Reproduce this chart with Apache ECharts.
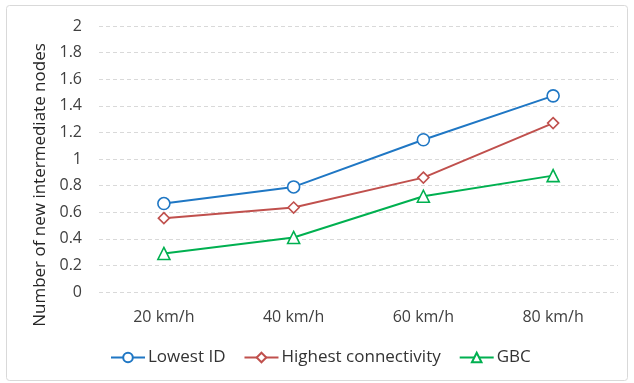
<!DOCTYPE html>
<html>
<head>
<meta charset="utf-8">
<script src="https://cdn.jsdelivr.net/npm/echarts@6/dist/echarts.min.js"></script>
<style>html,body{margin:0;padding:0;background:#fff;}#c{width:634px;height:383px;}</style>
</head>
<body>
<div id="c"></div>
<script>
const categories = ['20 km/h', '40 km/h', '60 km/h', '80 km/h'];
const lowestID = [0.665, 0.79, 1.145, 1.475];
const highestConnectivity = [0.555, 0.635, 0.86, 1.27];
const gbc = [0.29, 0.41, 0.72, 0.875];
const seriesNames = ['Lowest ID', 'Highest connectivity', 'GBC'];
const yTitle = 'Number of new intermediate nodes';

const font = '"Open Sans", "Noto Sans", sans-serif';
const chart = echarts.init(document.getElementById('c'), null, {renderer: 'canvas'});
function mk(name, data, color, symbol, size) {
  return {
    name, type: 'line', data, symbol, symbolSize: size, showAllSymbol: true,
    lineStyle: {color, width: 2},
    itemStyle: {color: '#fff', borderColor: color, borderWidth: 1.6},
    emphasis: {disabled: true}, z: 3
  };
}
chart.setOption({
  animation: false,
  backgroundColor: '#fff',
  color: ['#1f77c4', '#c0504d', '#00b050'],
  graphic: [
    {type: 'rect', shape: {x: 6.5, y: 5.5, width: 621, height: 375, r: 3}, style: {fill: 'none', stroke: '#d9d9d9', lineWidth: 1}, z: -10},
    {type: 'text', x: 40, y: 185, rotation: Math.PI / 2, style: {text: yTitle, font: '17px ' + font, fill: '#262626', textAlign: 'center', textVerticalAlign: 'middle'}}
  ],
  grid: {left: 99, right: 16, top: 26, bottom: 91, containLabel: false},
  legend: {
    data: seriesNames, bottom: 17, left: 110, padding: 0, itemWidth: 34, itemHeight: 12, itemGap: 18,
    textStyle: {fontFamily: font, fontSize: 17, color: '#333', padding: [0, 0, 0, -2]}
  },
  xAxis: {
    type: 'category', data: categories, boundaryGap: true,
    axisLine: {show: false}, axisTick: {show: false},
    axisLabel: {fontFamily: font, fontSize: 16, color: '#404040', margin: 17}
  },
  yAxis: {
    type: 'value', min: 0, max: 2, interval: 0.2,
    axisLine: {show: false}, axisTick: {show: false},
    axisLabel: {fontFamily: font, fontSize: 16, color: '#404040', margin: 17,
      formatter: v => String(Math.round(v * 10) / 10)},
    splitLine: {lineStyle: {color: '#d9d9d9', type: [4, 3], width: 1}}
  },
  series: [
    mk(seriesNames[0], lowestID, '#1f77c4', 'circle', 12),
    mk(seriesNames[1], highestConnectivity, '#c0504d', 'diamond', 11),
    mk(seriesNames[2], gbc, '#00b050', 'triangle', 12)
  ]
});
</script>
</body>
</html>
